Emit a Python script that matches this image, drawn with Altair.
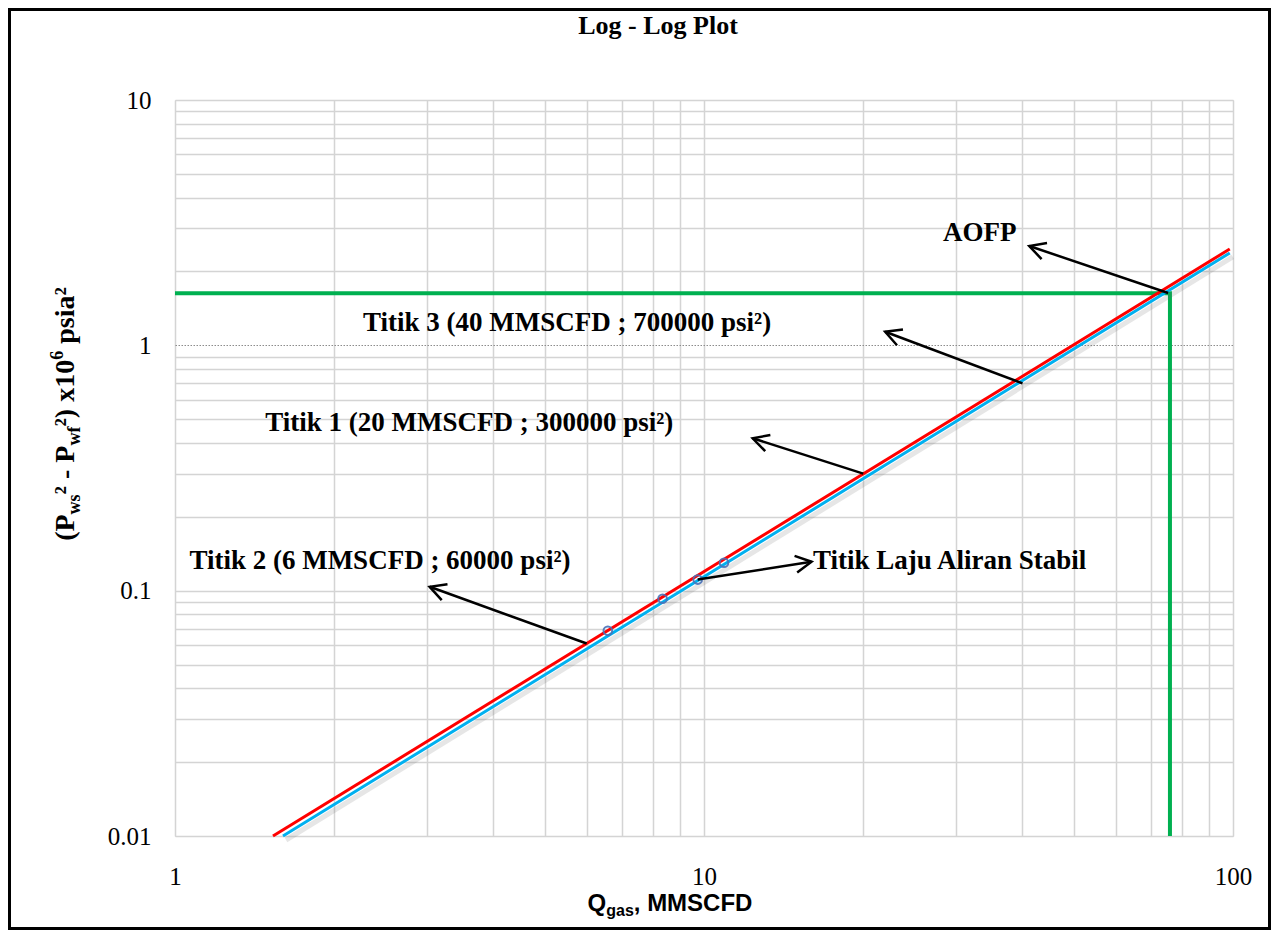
import math
import altair as alt
import pandas as pd

# ---------------- data ----------------
red_q = [1.532, 98.6]
red_p = [0.01, 2.47]
blue_q = [1.600, 98.6]
blue_p = [0.01, 2.38]

pts_q = [6.58, 8.35, 9.73, 10.91]
pts_p = [0.0686, 0.0927, 0.111, 0.130]

aofp_q = [1.0, 76.0, 76.0]
aofp_p = [1.63, 1.63, 0.01]

ann_text = ["AOFP",
            "Titik 3 (40 MMSCFD ; 700000 psi²)",
            "Titik 1 (20 MMSCFD ; 300000 psi²)",
            "Titik 2 (6 MMSCFD ; 60000 psi²)",
            "Titik Laju Aliran Stabil"]
ann_q = [33.2, 5.51, 3.60, 2.44, 16.07]
ann_p = [2.87, 1.233, 0.482, 0.132, 0.132]
ann_left = [False, False, False, False, True]

tail_q = [75.4, 40.0, 20.0, 6.0, 9.73]
tail_p = [1.634, 0.70, 0.30, 0.0609, 0.111]
head_q = [41.2, 22.0, 12.36, 3.03, 15.97]
head_p = [2.54, 1.136, 0.418, 0.1037, 0.1312]

x_grid = [1, 2, 3, 4, 5, 6, 7, 8, 9, 10, 20, 30, 40, 50, 60, 70, 80, 90, 100]
y_grid = [0.01, 0.02, 0.03, 0.04, 0.05, 0.06, 0.07, 0.08, 0.09,
          0.1, 0.2, 0.3, 0.4, 0.5, 0.6, 0.7, 0.8, 0.9,
          1, 2, 3, 4, 5, 6, 7, 8, 9, 10]

# ---------------- layout ----------------
W, H = 1058, 736
XPX = W / 2.0   # px per decade
YPX = H / 3.0
PAD = {"left": 167, "top": 92, "right": 38, "bottom": 94}

SERIF = "Liberation Serif"
SANS = "Liberation Sans"
NB = "\u00a0"

xs = alt.Scale(type="log", domain=[1, 100], nice=False)
ys = alt.Scale(type="log", domain=[0.01, 10], nice=False)

x_axis = alt.Axis(values=x_grid, title=None, grid=True, ticks=False, tickSize=0,
                  domain=False, labelFont=SERIF, labelFontSize=25, labelColor="black",
                  labelPadding=28, labelBaseline="top", labelFlush=False,
                  labelExpr="datum.value == 1 ? '1' : datum.value == 10 ? '10' : datum.value == 100 ? '100' : ''",
                  gridColor="#d4d4d4", gridWidth=1.5, labelOverlap=False)
y_axis = alt.Axis(values=y_grid, title=None, grid=True, ticks=False, tickSize=0,
                  domain=False, labelFont=SERIF, labelFontSize=25, labelColor="black",
                  labelPadding=24, labelOverlap=False, labelFlush=False,
                  labelExpr="datum.value == 0.01 ? '0.01' : datum.value == 0.1 ? '0.1' : datum.value == 1 ? '1' : datum.value == 10 ? '10' : ''",
                  gridColor={"condition": {"test": "datum.value === 1", "value": "#8c8c8c"}, "value": "#d4d4d4"},
                  gridDash={"condition": {"test": "datum.value === 1", "value": [1.5, 1.5]}, "value": []},
                  gridWidth={"condition": {"test": "datum.value === 1", "value": 1}, "value": 1.5})

one = pd.DataFrame({"k": [0]})

red_df = pd.DataFrame({"q": red_q, "p": red_p})
blue_df = pd.DataFrame({"q": blue_q, "p": blue_p})
pts_df = pd.DataFrame({"q": pts_q, "p": pts_p})
green_df = pd.DataFrame({"q": aofp_q, "p": aofp_p, "o": list(range(len(aofp_q)))})

base_x = alt.X("q:Q", scale=xs, axis=x_axis)
base_y = alt.Y("p:Q", scale=ys, axis=y_axis)

green = alt.Chart(green_df).mark_line(color="#00B050", strokeWidth=4).encode(
    x=base_x, y=base_y, order="o:Q")

shadow = alt.Chart(blue_df).mark_line(color="#666666", opacity=0.16, strokeWidth=5,
                                      xOffset=3, yOffset=4).encode(
    x=alt.X("q:Q", scale=xs), y=alt.Y("p:Q", scale=ys))
blue = alt.Chart(blue_df).mark_line(color="#00B0F0", strokeWidth=3).encode(
    x=alt.X("q:Q", scale=xs), y=alt.Y("p:Q", scale=ys))
red = alt.Chart(red_df).mark_line(color="#FF0000", strokeWidth=3).encode(
    x=alt.X("q:Q", scale=xs), y=alt.Y("p:Q", scale=ys))
points = alt.Chart(pts_df).mark_point(shape="circle", size=75, filled=False,
                                      color="#4A72B8", strokeWidth=2, opacity=0.9).encode(
    x=alt.X("q:Q", scale=xs), y=alt.Y("p:Q", scale=ys))

# arrows
angles = []
for tq, tp, hq, hp in zip(tail_q, tail_p, head_q, head_p):
    dx = XPX * (math.log10(hq) - math.log10(tq))
    dy = -YPX * (math.log10(hp) - math.log10(tp))
    angles.append(math.degrees(math.atan2(dy, dx)) % 360)
arr_df = pd.DataFrame({"tq": tail_q, "tp": tail_p, "hq": head_q, "hp": head_p, "ang": angles})

arrow_lines = alt.Chart(arr_df).mark_rule(color="black", strokeWidth=2.5).encode(
    x=alt.X("tq:Q", scale=xs), y=alt.Y("tp:Q", scale=ys),
    x2="hq:Q", y2="hp:Q")
arrow_heads = alt.Chart(arr_df).mark_point(
    shape="M -0.88 -0.47 L 0 0 L -0.88 0.47", size=1300, filled=False,
    color="black", strokeWidth=2.5, opacity=1).encode(
    x=alt.X("hq:Q", scale=xs), y=alt.Y("hp:Q", scale=ys),
    angle=alt.Angle("ang:Q", scale=None))

ann_df = pd.DataFrame({"t": ann_text, "q": ann_q, "p": ann_p, "left": ann_left})
ann_c = alt.Chart(ann_df).transform_filter("!datum.left").mark_text(
    font=SERIF, fontWeight="bold", fontSize=27, align="center", baseline="middle",
    color="black").encode(x=alt.X("q:Q", scale=xs), y=alt.Y("p:Q", scale=ys), text="t:N")
ann_l = alt.Chart(ann_df).transform_filter("datum.left").mark_text(
    font=SERIF, fontWeight="bold", fontSize=27, align="left", baseline="middle",
    color="black").encode(x=alt.X("q:Q", scale=xs), y=alt.Y("p:Q", scale=ys), text="t:N")

# title
title = alt.Chart(one).mark_text(text="Log - Log Plot", font=SERIF, fontWeight="bold",
                                 fontSize=26, align="center", baseline="middle",
                                 color="black").encode(x=alt.value(483), y=alt.value(-74))

# composed axis titles (Times-Bold / Arial-Bold metric widths)
TB = {"(": 333, ")": 333, "P": 611, "w": 722, "s": 389, "f": 333, "2": 500, NB: 250,
      "-": 333, "x": 500, "1": 500, "0": 500, "6": 500, "p": 556, "i": 278, "a": 500,
      "²": 300}
AB = {"Q": 778, "g": 611, "a": 556, "s": 556, ",": 278, NB: 278, "M": 833, "S": 667,
      "C": 722, "F": 611, "D": 722}


def seg_layers(segs, metrics, font, cx, cy, angle):
    # each segment: (text, font size, baseline shift, gap before it in px)
    total = sum(gap + sum(metrics[c] for c in t) * sz / 1000.0 for t, sz, _, gap in segs)
    off = -total / 2.0
    layers = []
    for t, sz, dy, gap in segs:
        off += gap
        kw = dict(text=t, font=font, fontWeight="bold", fontSize=sz, align="left",
                  baseline="alphabetic", color="black", dx=off, dy=dy)
        if angle:
            kw["angle"] = angle
        layers.append(alt.Chart(one).mark_text(**kw).encode(x=alt.value(cx), y=alt.value(cy)))
        off += sum(metrics[c] for c in t) * sz / 1000.0
    return layers


F, S = 28, 18
ysegs = [("(P", F, 0, 0), ("ws", S, 6, 0), ("²" + NB + "-" + NB + "P", F, 0, 0), ("wf", S, 6, 0),
         ("²)" + NB + "x10", F, 0, 0), ("6", S, -11, 0), ("psia²", F, 0, 7)]
ytitle = seg_layers(ysegs, TB, SERIF, -101, 314, 270)

xsegs = [("Q", 24, 0, 0), ("gas", 16, 5, 0), ("," + NB + "MMSCFD", 24, 0, 0)]
xtitle = seg_layers(xsegs, AB, SANS, 495, 811, None)

frame = alt.Chart(one).mark_rect(filled=False, stroke="black", strokeWidth=3).encode(
    x=alt.value(-PAD["left"] + 1.5), x2=alt.value(W + PAD["right"] - 1.5),
    y=alt.value(-PAD["top"] + 1.5), y2=alt.value(H + PAD["bottom"] - 1.5))

chart = alt.layer(
    green, shadow, blue, red, points, arrow_lines, arrow_heads, ann_c, ann_l,
    title, *ytitle, *xtitle, frame
).properties(
    width=W, height=H,
    autosize=alt.AutoSizeParams(type="none"),
    padding=PAD,
).configure_view(
    stroke="#868686", strokeWidth=2
).configure(background="white")

chart.save("out.html", embed_options={"renderer": "svg", "actions": False})
